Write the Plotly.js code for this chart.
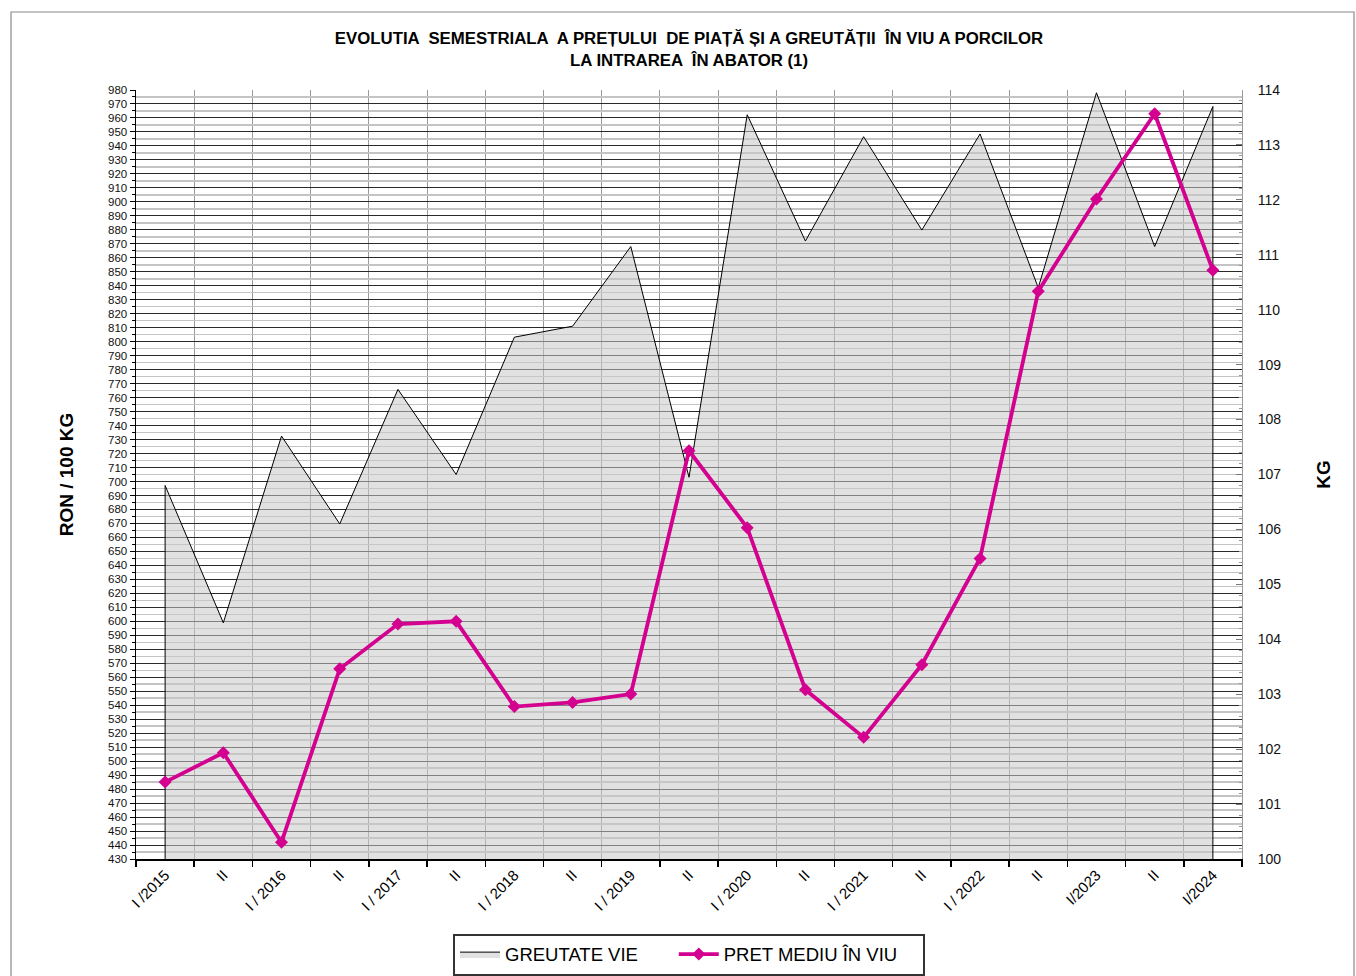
<!DOCTYPE html>
<html>
<head>
<meta charset="utf-8">
<script src="https://cdn.plot.ly/plotly-3.0.1.min.js"></script>
<style>html,body{margin:0;padding:0;background:#fff;}#chart{width:1356px;height:976px;}</style>
</head>
<body>
<div id="chart"></div>
<script>
// Semesters
const categories = ["I /2015","II","I / 2016","II","I / 2017","II","I / 2018","II","I / 2019","II",
                    "I / 2020","II","I / 2021","II","I / 2022","II","I/2023","II","I/2024"];
// Live weight (KG, right axis)
const weightKg = [106.8,104.3,107.7,106.1,108.55,107.0,109.5,109.7,111.15,106.95,
                  113.55,111.25,113.15,111.45,113.2,110.4,113.95,111.15,113.7];
// Average live price (RON / 100 KG, left axis)
const priceRon = [485,506,442,566,598,600,539,542,548,722,
                  667,551,517,569,645,836,902,963,851];
// Series names
const seriesNames = ["GREUTATE VIE", "PRET MEDIU ÎN VIU"];
// Axis ranges
const priceRange = [430,980];
const kgRange = [100,114];

const idx = categories.map((_, i) => i);
const n = categories.length;

const FONT = "Liberation Sans, Arial, sans-serif";
const NB = '\u00A0';

const areaTrace = {
  x: [idx[0]].concat(idx, [idx[n-1]]),
  y: [kgRange[0]].concat(weightKg, [kgRange[0]]),
  type: 'scatter', mode: 'lines', fill: 'toself',
  fillcolor: 'rgba(200,200,200,0.55)',
  line: {color: '#000', width: 1},
  name: seriesNames[0] + NB.repeat(6), xaxis: 'x', yaxis: 'y', hoverinfo: 'skip'
};
const priceTrace = {
  x: idx, y: priceRon,
  type: 'scatter', mode: 'lines+markers',
  line: {color: '#d4008f', width: 3.8},
  marker: {symbol: 'diamond', size: 10, color: '#d4008f'},
  name: seriesNames[1] + NB.repeat(4), xaxis: 'x', yaxis: 'y2'
};

const boundaries = [];
for (let i = 0; i <= n; i++) boundaries.push(i - 0.5);

const layout = {
  width: 1356, height: 976,
  margin: {l: 136, r: 114, t: 90, b: 117, autoexpand: false},
  paper_bgcolor: '#fff', plot_bgcolor: '#fff',
  font: {family: FONT, color: '#000'},
  showlegend: true,
  title: {
    text: '<b>EVOLUTIA  SEMESTRIALA  A PREȚULUI  DE PIAȚĂ ȘI A GREUTĂȚII  ÎN VIU A PORCILOR<br>LA INTRAREA  ÎN ABATOR (1)</b>',
    font: {family: "Liberation Sans Narrow, Arial Narrow, Liberation Sans, sans-serif", size: 16.8, color: '#000'},
    x: 0.5, xanchor: 'center', xref: 'paper',
    y: 0.955, yanchor: 'top', yref: 'container', automargin: false
  },
  xaxis: {
    range: [-0.5, n - 0.5],
    tickmode: 'array', tickvals: idx, ticktext: categories,
    ticks: '', showgrid: false, zeroline: false,
    tickangle: -45, tickfont: {size: 15, family: FONT},
    showline: true, linecolor: '#000', linewidth: 1.5,
    minor: {tickmode: 'array', tickvals: boundaries, ticks: 'outside', ticklen: 6, tickcolor: '#000', tickwidth: 1.5,
            showgrid: true, gridcolor: '#9a9a9a', gridwidth: 1},
    anchor: 'y', automargin: false, fixedrange: true
  },
  yaxis: {
    range: kgRange, side: 'right',
    tickmode: 'linear', tick0: 100, dtick: 1,
    ticks: 'inside', ticklen: 6, tickcolor: '#777', tickwidth: 1,
    minor: {dtick: 0.2, ticks: 'inside', ticklen: 3, tickcolor: '#999', showgrid: false},
    showgrid: false, zeroline: false,
    showline: true, linecolor: '#999', linewidth: 1,
    tickfont: {size: 14, family: FONT, color: '#111'},
    ticklabelstandoff: 12,
    title: {text: '<b>KG</b>', font: {size: 19, family: FONT, color: '#000'}, standoff: 36},
    automargin: false, fixedrange: true
  },
  yaxis2: {
    range: priceRange, side: 'left', overlaying: 'y',
    tickmode: 'linear', tick0: 430, dtick: 10,
    ticks: 'outside', ticklen: 5, tickcolor: '#000', tickwidth: 1,
    showgrid: true, gridcolor: '#2a2a2a', gridwidth: 1,
    minor: {dtick: 5, ticks: 'outside', ticklen: 3, tickcolor: '#000', showgrid: true, gridcolor: '#c4c4c4', gridwidth: 1.5},
    zeroline: false,
    showline: true, linecolor: '#000', linewidth: 1.5,
    tickfont: {size: 11.5, family: FONT, color: '#111'},
    title: {text: '<b>RON / 100 KG</b>', font: {size: 19, family: FONT, color: '#000'}, standoff: 29},
    automargin: false, fixedrange: true
  },
  legend: {
    orientation: 'h', x: 0.5, xanchor: 'center', y: -0.097, yanchor: 'top',
    bgcolor: '#fff', bordercolor: '#333', borderwidth: 2,
    font: {size: 18.5, family: FONT, color: '#000'},
    itemwidth: 40, traceorder: 'normal', tracegroupgap: 0
  },
  shapes: [{
    type: 'rect', xref: 'paper', yref: 'paper',
    x0: (11 - 136) / 1106, x1: (1354 - 136) / 1106,
    y0: -0.2, y1: (859 - 12) / 769,
    line: {color: '#8a8a8a', width: 1.2}, fillcolor: 'rgba(0,0,0,0)', layer: 'below'
  }]
};

Plotly.newPlot('chart', [areaTrace, priceTrace], layout, {displayModeBar: false, staticPlot: true});
</script>
</body>
</html>
